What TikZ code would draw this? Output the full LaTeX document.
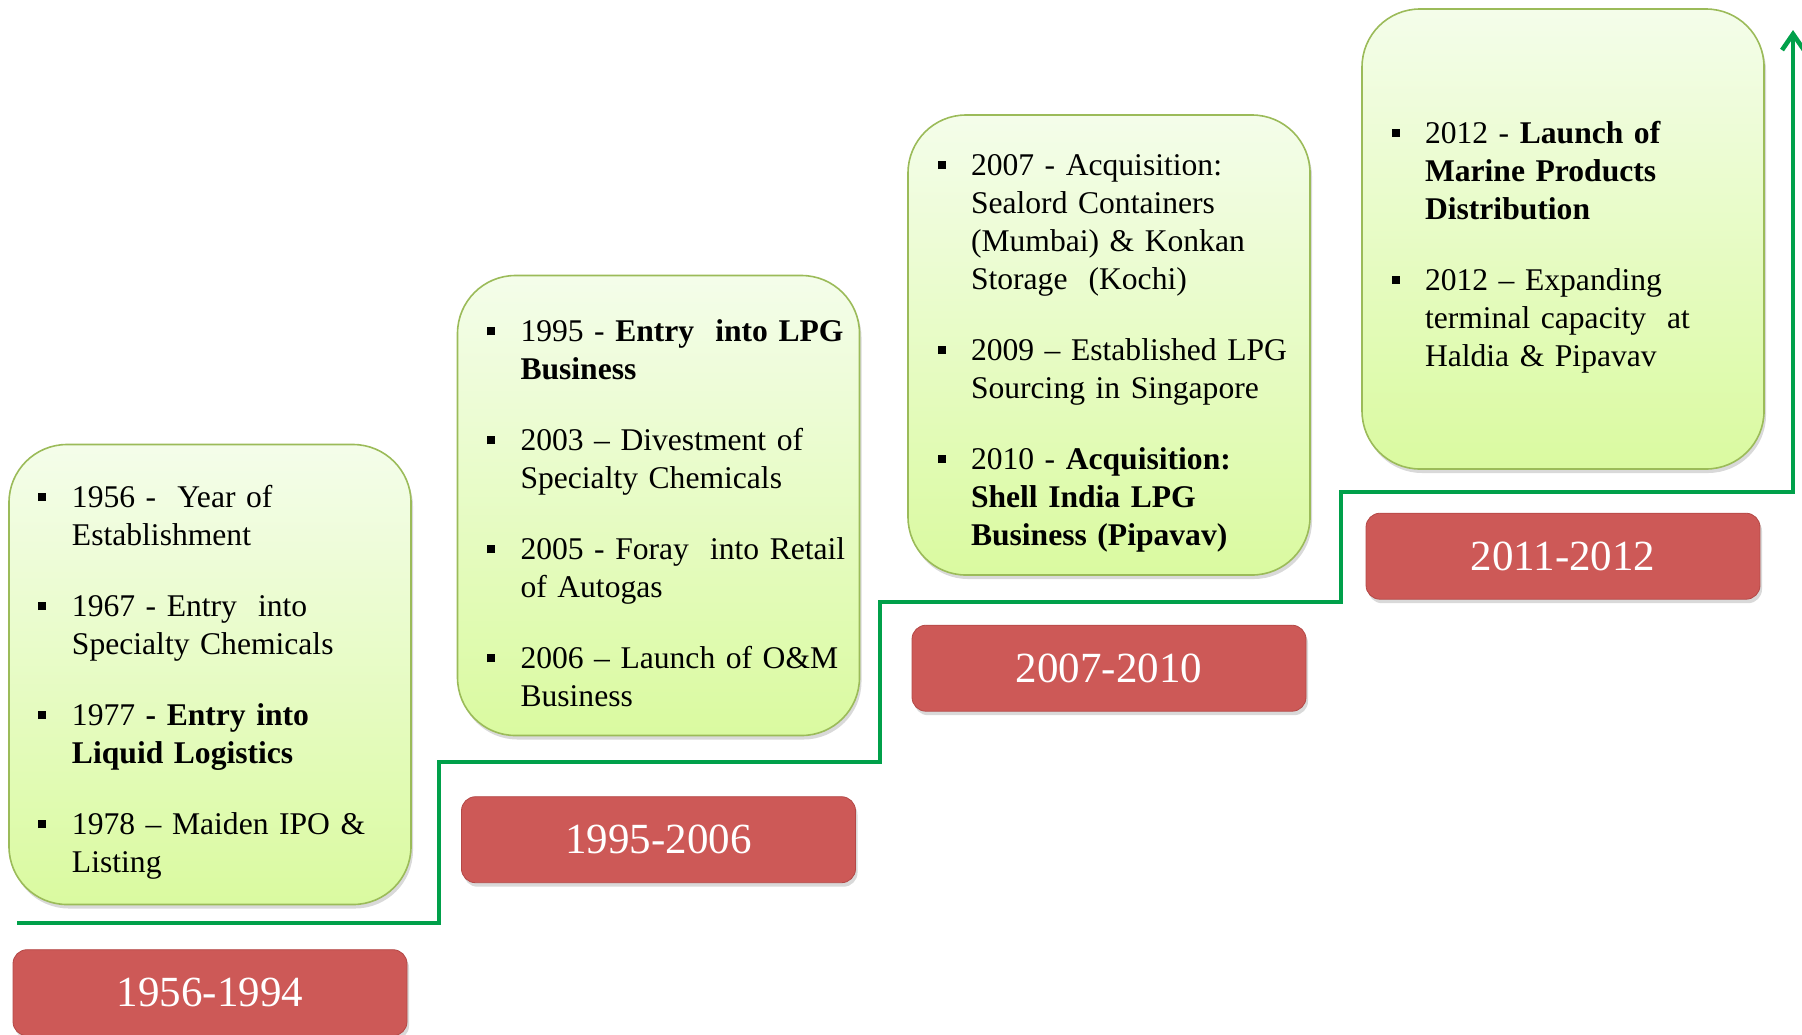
\documentclass[tikz,border=0pt]{standalone}
\usepackage{fontspec}
\setmainfont{Liberation Serif}
\usepackage{enumitem}
\usetikzlibrary{positioning,shadows,arrows.meta}

\definecolor{stagetop}{RGB}{244,253,234}
\definecolor{stagebot}{RGB}{218,250,160}
\definecolor{stageline}{RGB}{155,187,89}
\definecolor{periodtop}{RGB}{240,140,138}
\definecolor{periodmid}{RGB}{205,89,87}
\definecolor{periodbot}{RGB}{180,72,70}
\definecolor{stairgreen}{RGB}{0,160,74}

\pgfdeclareverticalshading{periodshade}{100bp}{color(0bp)=(periodbot);
  color(6bp)=(periodmid); color(88bp)=(periodmid); color(96bp)=(periodtop);
  color(100bp)=(periodtop)}

\newcommand{\sqbullet}{\rule[3.3pt]{4pt}{4pt}}
\setlist[itemize]{label=\sqbullet, leftmargin=31.5pt, labelwidth=4pt,
  labelsep=12.75pt, align=left, topsep=0pt, partopsep=0pt, parsep=0pt,
  itemsep=16.5pt}

\tikzset{node distance=2cm,
  stage/.style={draw=stageline, line width=0.8pt, rounded corners=29pt,
    top color=stagetop, bottom color=stagebot, text width=201pt,
    minimum height=230pt, inner xsep=0pt, inner ysep=0pt,
    font=\fontsize{15.8pt}{19pt}\selectfont,
    drop shadow={shadow xshift=1pt, shadow yshift=-2pt, opacity=0.3}},
  period/.style={draw=periodbot, line width=0.4pt, rounded corners=7pt,
    shading=periodshade, minimum width=197pt, minimum height=43pt,
    text=white, font=\fontsize{21.5pt}{25pt}\selectfont,
    drop shadow={shadow xshift=1pt, shadow yshift=-2pt, opacity=0.3}},
  stair/.style={draw=stairgreen, line width=2.3pt,
    -{Straight Barb[length=8pt,width=11pt]}}}

\begin{document}
\begin{tikzpicture}[x=0.5pt, y=-0.5pt]
  \useasboundingbox (0,0) rectangle (1802,1034);

  % rising line behind the boxes
  \coordinate (st) at (17,923);
  \coordinate (tip) at (1793,30);
  \draw[stair] (st) -| (439,762) -| (880,602) -| (1341,492) -| (tip);

  % milestone boxes
  \node[stage] (s1) at (210,674.5) {%
    \begin{itemize}
      \item 1956 - \ Year of\\Establishment
      \item 1967 - Entry \ into\\Specialty Chemicals
      \item 1977 \textbf{- Entry into\\Liquid Logistics}
      \item 1978 -- Maiden IPO \&\\Listing
    \end{itemize}};
  \node[stage] (s2) at (658.5,505.5) {%
    \begin{itemize}
      \item 1995 - \textbf{Entry \ into LPG\\Business}
      \item 2003 -- Divestment of\\Specialty Chemicals
      \item 2005 - Foray \ into Retail\\of Autogas
      \item 2006 -- Launch of O\&M\\Business
    \end{itemize}};
  \node[stage] (s3) at (1109,345) {%
    \begin{itemize}
      \item 2007 - Acquisition:\\Sealord Containers\\(Mumbai) \& Konkan\\Storage \ (Kochi)
      \item 2009 -- Established LPG\\Sourcing in Singapore
      \item 2010 - \textbf{Acquisition:\\Shell India LPG\\Business (Pipavav)}
    \end{itemize}};
  \node[stage] (s4) at (1563,239) {%
    \begin{itemize}
      \item 2012 - \textbf{Launch of\\Marine Products\\Distribution}
      \item 2012 -- Expanding\\terminal capacity \ at\\Haldia \& Pipavav
    \end{itemize}};

  % period labels
  \node[period, below=22pt of s1] (p1) {1956-1994};
  \node[period, below=30pt of s2] (p2) {1995-2006};
  \node[period, below=24.5pt of s3] (p3) {2007-2010};
  \node[period, below=21.5pt of s4] (p4) {2011-2012};
\end{tikzpicture}
\end{document}
